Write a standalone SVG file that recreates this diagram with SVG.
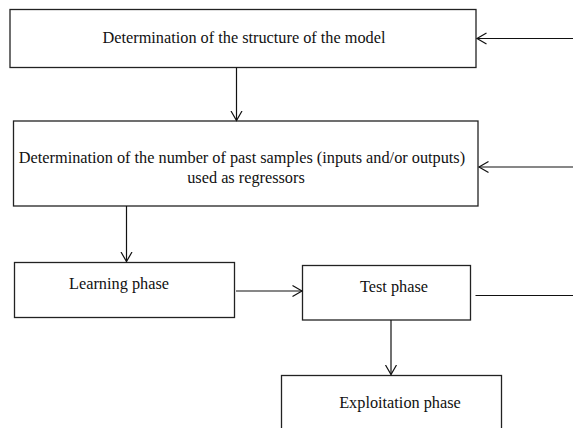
<svg xmlns="http://www.w3.org/2000/svg" width="573" height="428" viewBox="0 0 573 428">
<style>
.box{fill:#fff;stroke:#222;stroke-width:1.3}
.t{font-family:"Liberation Serif","Times New Roman",serif;font-size:16.3px;fill:#111;text-anchor:middle}
.c{fill:none;stroke:#111;stroke-width:1.2}
</style>
<defs>
<marker id="a" markerWidth="12" markerHeight="14" refX="10" refY="7" orient="auto" markerUnits="userSpaceOnUse">
<path d="M0.5,1.5 L10,7 L0.5,12.5" fill="none" stroke="#111" stroke-width="1.2"/>
</marker>
</defs>
<rect width="573" height="428" fill="#fff"/>
<g id="n1"><rect class="box" x="10" y="9.5" width="466" height="58"/><text class="t" x="244" y="43">Determination of the structure of the model</text></g>
<g id="n2"><rect class="box" x="13.5" y="121" width="464.5" height="85"/><text class="t" x="242" y="163">Determination of the number of past samples (inputs and/or outputs)</text><text class="t" x="246" y="182.5">used as regressors</text></g>
<g id="n3"><rect class="box" x="14.5" y="262.5" width="220" height="55"/><text class="t" x="119" y="289">Learning phase</text></g>
<g id="n4"><rect class="box" x="302.5" y="265.5" width="168" height="54.5"/><text class="t" x="394" y="292">Test phase</text></g>
<g id="n5"><rect class="box" x="281.5" y="375.5" width="220" height="60"/><text class="t" x="400" y="408">Exploitation phase</text></g>
<g id="connectors">
<line class="c" x1="573" y1="38.5" x2="477" y2="38.5" marker-end="url(#a)"/>
<line class="c" x1="236.5" y1="67.5" x2="236.5" y2="120.5" marker-end="url(#a)"/>
<line class="c" x1="573" y1="167" x2="479" y2="167" marker-end="url(#a)"/>
<line class="c" x1="126.5" y1="206" x2="126.5" y2="261.5" marker-end="url(#a)"/>
<line class="c" x1="236" y1="291" x2="302" y2="291" marker-end="url(#a)"/>
<line class="c" x1="475.5" y1="295.5" x2="573" y2="295.5"/>
<line class="c" x1="391" y1="320" x2="391" y2="374.5" marker-end="url(#a)"/>
</g>
</svg>
